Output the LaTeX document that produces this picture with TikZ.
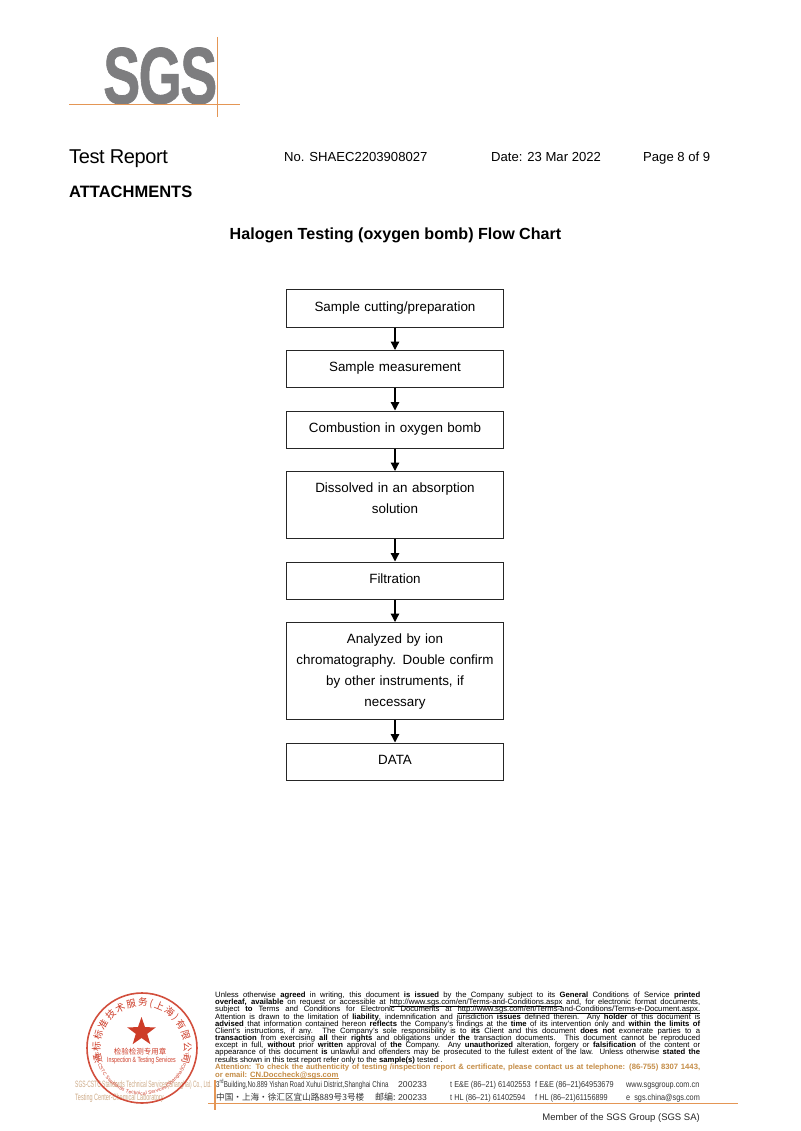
\documentclass[tikz,border=0pt]{standalone}
\usepackage{fontspec}
\usepackage{graphicx}
\setmainfont{Liberation Sans}
\newfontfamily\cjk{Noto Sans CJK SC}
\usepackage{tikz}
\usetikzlibrary{positioning}
\usetikzlibrary{arrows.meta}
\usetikzlibrary{shapes.geometric}
\usetikzlibrary{decorations.text}
\definecolor{rulecol}{RGB}{228,150,85}
\definecolor{logogray}{RGB}{125,125,127}
\definecolor{attcol}{RGB}{196,140,70}
\definecolor{stampred}{RGB}{205,60,40}
\definecolor{tancol}{RGB}{205,170,135}
\newcommand{\fsz}[1]{\fontsize{#1}{#1}\selectfont}
\newcommand{\ulink}[1]{\underline{\smash{#1}}}
\begin{document}
\begin{tikzpicture}[x=1pt,y=-1pt,
flowbox/.style={draw=black!85,line width=1pt,minimum width=217pt,minimum height=37pt,inner sep=2pt,align=center,font=\fsz{13.4},text width=205pt,text height=10pt,text depth=5pt},
flowarrow/.style={-{Triangle[length=8.5pt,width=8.5pt]},line width=1.3pt,black},
plain/.style={inner sep=0pt,anchor=base west},
head/.style={plain,font=\fsz{13.1}},
legal/.style={inner sep=0pt,anchor=base west,font=\fsz{7.7}},
addr/.style={inner sep=0pt,anchor=base west,font=\fsz{8.6},text=black!80},
tan/.style={inner sep=0pt,anchor=base west,font=\fsz{9.2},text=tancol},
orangerule/.style={draw=rulecol,line width=1.3pt}]
\useasboundingbox (0,0) rectangle (800,1131);
% logo
\node[inner sep=0pt,anchor=south west,text=logogray] (logo) at (103,104.5) {\resizebox{114pt}{56pt}{\bfseries\addfontfeature{FakeBold=1,LetterSpace=-3}SGS}};
\coordinate (logol) at (69,104.5); \coordinate (logor) at (240,104.5);
\coordinate (logot) at (217.5,37); \coordinate (logob) at (217.5,117);
\draw[orangerule] (logol)--(logor); \draw[orangerule] (logot)--(logob);
% header
\node[plain,font=\fsz{20}] (report) at (69,164) {\addfontfeature{LetterSpace=-2}Test Report};
\node[head] (nr) at (284,162) {No. SHAEC2203908027};
\node[head] (date) at (491,162) {Date: 23 Mar 2022};
\node[head] (page) at (643,162) {Page 8 of 9};
\node[plain,font=\fsz{16.5}\bfseries] (att) at (69,198) {ATTACHMENTS};
\node[inner sep=0pt,anchor=base,font=\fsz{16.1}\bfseries] (title) at (395.5,240) {Halogen Testing (oxygen bomb) Flow Chart};
% flow chart
\node[flowbox] (cut) at (395,308.5) {Sample cutting/preparation};
\node[flowbox,below=22.5pt of cut] (meas) {Sample measurement};
\node[flowbox,below=22.5pt of meas] (comb) {Combustion in oxygen bomb};
\node[flowbox,below=22.5pt of comb,minimum height=67pt,font=\fontsize{13.4}{21}\selectfont,text depth=35pt] (diss) {Dissolved in an absorption\\solution};
\node[flowbox,below=22.5pt of diss] (filt) {Filtration};
\node[flowbox,below=22.5pt of filt,minimum height=97pt,font=\fontsize{13.4}{21}\selectfont,text depth=66pt] (ion) {Analyzed by ion\\chromatography. Double confirm\\by other instruments, if\\necessary};
\node[flowbox,below=22.5pt of ion] (data) {DATA};
\draw[flowarrow] (cut)--(meas); \draw[flowarrow] (meas)--(comb); \draw[flowarrow] (comb)--(diss);
\draw[flowarrow] (diss)--(filt); \draw[flowarrow] (filt)--(ion); \draw[flowarrow] (ion)--(data);
% legal text
\foreach \txt [count=\i] in {
{Unless otherwise \textbf{agreed} in writing, this document \textbf{is issued} by the Company subject to its \textbf{General} Conditions of Service \textbf{printed}},
{\textbf{overleaf, available} on request or accessible at \ulink{http://www.sgs.com/en/Terms-and-Conditions.aspx} and, for electronic format documents,},
{subject \textbf{to} Terms and Conditions for Electronic Documents at \ulink{http://www.sgs.com/en/Terms-and-Conditions/Terms-e-Document.aspx.}},
{Attention is drawn to the limitation of \textbf{liability}, indemnification and jurisdiction \textbf{issues} defined therein. Any \textbf{holder} of this document is},
{\textbf{advised} that information contained hereon \textbf{reflects} the Company's findings at the \textbf{time} of its intervention only and \textbf{within the limits of}},
{Client's instructions, if any. The Company's sole responsibility is to \textbf{its} Client and this document \textbf{does not} exonerate parties to a},
{\textbf{transaction} from exercising \textbf{all} their \textbf{rights} and obligations under \textbf{the} transaction documents. This document cannot be reproduced},
{except in full, \textbf{without} prior \textbf{written} approval of \textbf{the} Company. Any \textbf{unauthorized} alteration, forgery or \textbf{falsification} of the content or},
{appearance of this document \textbf{is} unlawful and offenders may be prosecuted to the fullest extent of the law. Unless otherwise \textbf{stated the}}}
\node[legal] (legal\i) at (215,990.5+7.15*\i) {\makebox[485pt][s]{\txt}};
\node[legal] (legalx) at (215,1062) {results shown in this test report refer only to the \textbf{sample(s)} tested .};
\node[legal,font=\fsz{7.7}\bfseries,text=attcol] (legaly) at (215,1069.5) {\makebox[485pt][s]{Attention: To check the authenticity of testing /inspection report \& certificate, please contact us at telephone: (86-755) 8307 1443,}};
\node[legal,font=\fsz{7.7}\bfseries,text=attcol] (legalz) at (215,1077) {or email: \ulink{CN.Doccheck@sgs.com}};
% address block
\node[addr] (road) at (216,1087) {\scalebox{0.72}[1]{3\textsuperscript{rd}Building,No.889 Yishan Road Xuhui District,Shanghai China}};
\node[addr,font=\fsz{8.6}\cjk] (cnroad) at (216,1100.5) {中国・上海・徐汇区宜山路889号3号楼};
\node[addr,font=\fsz{9}\cjk] (post) at (375,1100.5) {邮编:};
\node[addr] (zipa) at (398,1087) {200233};
\node[addr] (zipb) at (398,1100.5) {200233};
\node[addr] (tela) at (450,1087) {\scalebox{0.85}[1]{t E\&E (86--21) 61402553}};
\node[addr] (telb) at (450,1100.5) {\scalebox{0.85}[1]{t HL (86--21) 61402594}};
\node[addr] (faxa) at (535,1087) {\scalebox{0.85}[1]{f E\&E (86--21)64953679}};
\node[addr] (faxb) at (535,1100.5) {\scalebox{0.85}[1]{f HL (86--21)61156899}};
\node[addr] (web) at (626,1087) {\scalebox{0.85}[1]{www.sgsgroup.com.cn}};
\node[addr] (mail) at (626,1100.5) {\scalebox{0.85}[1]{e\ \ sgs.china@sgs.com}};
\coordinate (rulel) at (208,1103.5); \coordinate (ruler) at (738,1103.5);
\coordinate (rulet) at (215,1080); \coordinate (ruleb) at (215,1110);
\draw[orangerule] (rulel)--(ruler); \draw[orangerule] (rulet)--(ruleb);
\node[inner sep=0pt,anchor=base east,font=\fsz{9.5},text=black!85] (member) at (700,1120) {Member of the SGS Group (SGS SA)};
% stamp
\node[tan] (cstc) at (75,1087) {\scalebox{0.54}[1]{SGS-CSTC Standards Technical Services(Shanghai) Co., Ltd.}};
\node[tan] (lab) at (75,1100) {\scalebox{0.6}[1]{Testing Center-Chemical Laboratory}};
\node[draw=stampred,line width=1.6pt,circle,minimum size=110pt,inner sep=0pt,opacity=0.9] (stamp) at (142,1048) {};
\node[star,star points=5,star point ratio=2.5,fill=stampred,minimum size=30pt,inner sep=0pt] (redstar) at (141.5,1032) {};
\node[inner sep=0pt,font=\fsz{7.5}\cjk,text=stampred] (seal) at (140,1052) {检验检测专用章};
\node[inner sep=0pt,font=\fsz{7.5},text=stampred] (insp) at (141.5,1061) {\scalebox{0.7}[1]{Inspection \& Testing Services}};
\path[postaction={decorate,decoration={text along path,text align={fit to path},text={|\fsz{9.6}\cjk\color{stampred}|通标标准技术服务(上海)有限公司}}}] ([shift={(200:42pt)}]stamp.center) arc[start angle=200,end angle=-20,radius=42pt];
\path[postaction={decorate,decoration={text along path,text align={fit to path},text={|\fsz{4.8}\color{stampred}|SGS-CSTC Standards Technical Services(Shanghai)Co.,Ltd.}}}] ([shift={(185:47pt)}]stamp.center) arc[start angle=185,end angle=355,radius=47pt];
\end{tikzpicture}
\end{document}
